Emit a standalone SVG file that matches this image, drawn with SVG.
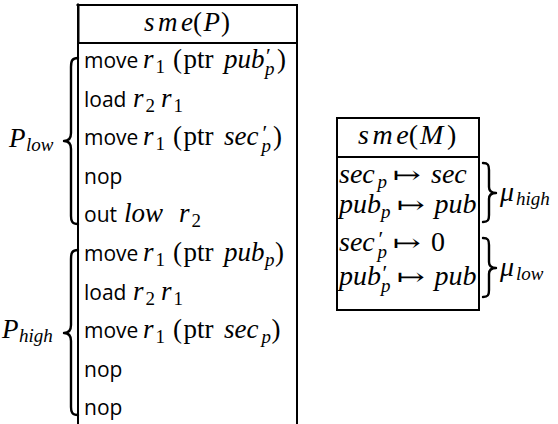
<svg xmlns="http://www.w3.org/2000/svg" width="558" height="424" viewBox="0 0 558 424">
  <defs>
    <style>
      .rule { stroke: #000; stroke-width: 2; fill: none; }
      .brace { stroke: #000; stroke-width: 2.4; fill: none; stroke-linecap: round; stroke-linejoin: round; }
      .sf { font-family: "Open Sans", "Noto Sans", sans-serif; font-size: 21px; fill: #000; }
      .mi { font-family: "Liberation Serif", "DejaVu Serif", serif; font-style: italic; font-size: 27px; fill: #000; }
      .rm { font-family: "Liberation Serif", "DejaVu Serif", serif; font-style: normal; font-size: 27px; fill: #000; }
      .big { font-size: 28px; }
      .sub { font-size: 19px; }
      .pr { font-family: "Liberation Serif", "DejaVu Serif", serif; font-style: normal; font-size: 22px; }
      .ar { font-family: "DejaVu Serif", "DejaVu Sans", serif; font-size: 24px; fill: #000; }
    </style>
  </defs>

  <rect width="558" height="424" fill="#fff"/>

  <!-- program table sme(P) -->
  <g id="table-P">
    <line class="rule" x1="76.5" y1="5" x2="298" y2="5" stroke-width="3"/>
    <line class="rule" x1="78" y1="3.5" x2="78" y2="424" stroke-width="2.5"/>
    <line class="rule" x1="78.5" y1="5" x2="78.5" y2="43" stroke-width="3.5"/>
    <line class="rule" x1="297" y1="4" x2="297" y2="424"/>
    <line class="rule" x1="78" y1="43" x2="297" y2="43"/>

    <text class="mi" x="144" y="31" textLength="49" lengthAdjust="spacing">sme</text>
    <text class="rm" x="193" y="31">(</text>
    <text class="mi" x="203.5" y="31">P</text>
    <text class="rm" x="221" y="31">)</text>

    <!-- row 1 -->
    <text class="sf" x="84" y="68">move</text>
    <text class="mi" x="143" y="68">r<tspan class="rm sub" x="155.5" dy="5">1</tspan></text>
    <text class="rm" x="173" y="68">(</text>
    <text class="rm" x="183.5" y="68">ptr</text>
    <text class="mi" x="224" y="68">pub<tspan class="pr" x="266" dy="-5">′</tspan><tspan class="sub" x="265" dy="12">p</tspan></text>
    <text class="rm" x="277" y="68">)</text>

    <!-- row 2 -->
    <text class="sf" x="84" y="107">load</text>
    <text class="mi" x="133" y="107">r<tspan class="rm sub" x="145.5" dy="5">2</tspan></text>
    <text class="mi" x="161" y="107">r<tspan class="rm sub" x="173.5" dy="5">1</tspan></text>

    <!-- row 3 -->
    <text class="sf" x="84" y="145">move</text>
    <text class="mi" x="143" y="145">r<tspan class="rm sub" x="155.5" dy="5">1</tspan></text>
    <text class="rm" x="173" y="145">(</text>
    <text class="rm" x="183.5" y="145">ptr</text>
    <text class="mi" x="224" y="145">sec<tspan class="pr" x="262.5" dy="-5">′</tspan><tspan class="sub" x="261.5" dy="12">p</tspan></text>
    <text class="rm" x="273" y="145">)</text>

    <!-- row 4 -->
    <text class="sf" x="84" y="184">nop</text>

    <!-- row 5 -->
    <text class="sf" x="84" y="222">out</text>
    <text class="mi" x="124" y="222">low</text>
    <text class="mi" x="179" y="222">r<tspan class="rm sub" x="191.5" dy="5">2</tspan></text>

    <!-- row 6 -->
    <text class="sf" x="84" y="261">move</text>
    <text class="mi" x="143" y="261">r<tspan class="rm sub" x="155.5" dy="5">1</tspan></text>
    <text class="rm" x="173" y="261">(</text>
    <text class="rm" x="183.5" y="261">ptr</text>
    <text class="mi" x="224" y="261">pub<tspan class="sub" x="265" dy="5">p</tspan></text>
    <text class="rm" x="275" y="261">)</text>

    <!-- row 7 -->
    <text class="sf" x="84" y="300">load</text>
    <text class="mi" x="133" y="300">r<tspan class="rm sub" x="145.5" dy="5">2</tspan></text>
    <text class="mi" x="161" y="300">r<tspan class="rm sub" x="173.5" dy="5">1</tspan></text>

    <!-- row 8 -->
    <text class="sf" x="84" y="338">move</text>
    <text class="mi" x="143" y="338">r<tspan class="rm sub" x="155.5" dy="5">1</tspan></text>
    <text class="rm" x="173" y="338">(</text>
    <text class="rm" x="183.5" y="338">ptr</text>
    <text class="mi" x="224" y="338">sec<tspan class="sub" x="261.5" dy="5">p</tspan></text>
    <text class="rm" x="271.5" y="338">)</text>

    <!-- rows 9, 10 -->
    <text class="sf" x="84" y="377">nop</text>
    <text class="sf" x="84" y="415">nop</text>
  </g>

  <!-- memory table sme(M) -->
  <g id="table-M">
    <rect class="rule" x="337" y="118" width="142" height="192"/>
    <line class="rule" x1="337" y1="157" x2="479" y2="157"/>

    <text class="mi big" x="358" y="144" textLength="50.8" lengthAdjust="spacing">sme</text>
    <text class="rm big" x="408.8" y="144">(</text>
    <text class="mi big" x="420" y="144">M</text>
    <text class="rm big" x="447" y="144">)</text>

    <text class="mi big" x="339" y="183">sec<tspan class="sub" x="377.5" dy="5">p</tspan></text>
    <text class="ar" x="393" y="183" textLength="28" lengthAdjust="spacingAndGlyphs">↦</text>
    <text class="mi big" x="431" y="183">sec</text>

    <text class="mi big" x="339" y="213">pub<tspan class="sub" x="381" dy="5">p</tspan></text>
    <text class="ar" x="397" y="213" textLength="28" lengthAdjust="spacingAndGlyphs">↦</text>
    <text class="mi big" x="434.6" y="213">pub</text>

    <text class="mi big" x="339" y="251">sec<tspan class="pr" x="378.5" dy="-5">′</tspan><tspan class="sub" x="377.5" dy="12">p</tspan></text>
    <text class="ar" x="393" y="251" textLength="28" lengthAdjust="spacingAndGlyphs">↦</text>
    <text class="rm big" x="431" y="251">0</text>

    <text class="mi big" x="339" y="285">pub<tspan class="pr" x="382.5" dy="-5">′</tspan><tspan class="sub" x="381" dy="12">p</tspan></text>
    <text class="ar" x="397" y="285" textLength="28" lengthAdjust="spacingAndGlyphs">↦</text>
    <text class="mi big" x="434.6" y="285">pub</text>
  </g>

  <!-- braces grouping rows -->
  <g id="braces">
    <path class="brace" d="M78,58 C72,58 71,61 71,67 L71,133 C71,138 69,141 64,141 C69,141 71,144 71,149 L71,216 C71,221 72,224 78,224"/>
    <path class="brace" d="M78,250 C72,250 71,253 71,259 L71,325 C71,330 69,333 64,333 C69,333 71,336 71,341 L71,407 C71,412 72,415 78,415"/>
    <path class="brace" d="M483,163 C488,163 489,165 489,170 L489,187 C489,191 491,193 496,193 C491,193 489,195 489,199 L489,215 C489,220 488,222 483,222"/>
    <path class="brace" d="M483,238 C488,238 489,240 489,245 L489,262 C489,266 491,268 496,268 C491,268 489,270 489,274 L489,290 C489,295 488,297 483,297"/>
  </g>

  <g id="label-P-low">
    <text class="mi" x="9" y="147">P<tspan class="sub" x="26" dy="4">low</tspan></text>
  </g>
  <g id="label-P-high">
    <text class="mi" x="2" y="338">P<tspan class="sub" x="19" dy="4">high</tspan></text>
  </g>
  <g id="label-mu-high">
    <text class="mi big" x="500" y="201">μ<tspan class="sub" x="516" dy="4">high</tspan></text>
  </g>
  <g id="label-mu-low">
    <text class="mi big" x="500" y="276">μ<tspan class="sub" x="516" dy="4">low</tspan></text>
  </g>
</svg>
